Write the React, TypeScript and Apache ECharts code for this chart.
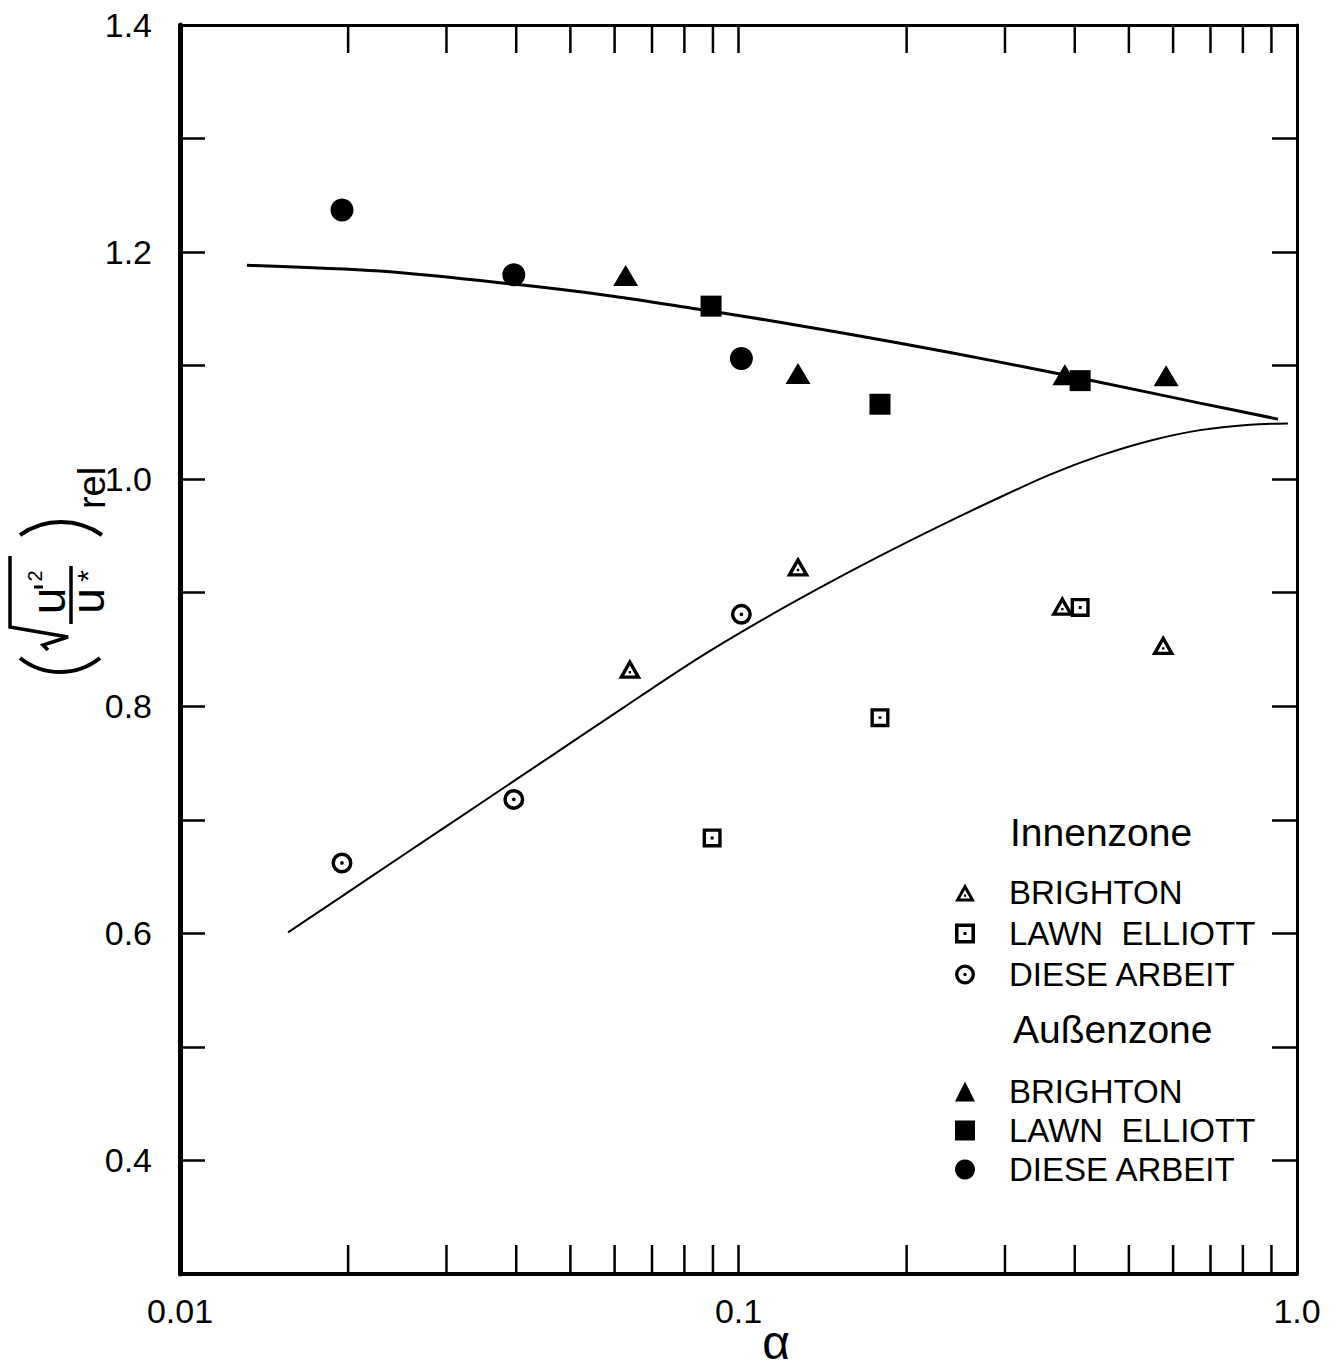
import React, { useEffect, useRef } from 'react';
import * as echarts from 'echarts';

// ---- axis ticks / labels ----
const xMinorTicks = [0.02, 0.03, 0.04, 0.05, 0.06, 0.07, 0.08, 0.09, 0.1, 0.2, 0.3, 0.4, 0.5, 0.6, 0.7, 0.8, 0.9];
const xLabelValues = [0.01, 0.1, 1];
const xLabelTexts = ['0.01', '0.1', '1.0'];
const yLabelValues = [0.4, 0.6, 0.8, 1.0, 1.2, 1.4];

// ---- curves ----
const upperCurveX = [0.01318, 0.0228, 0.0395, 0.0596, 0.0843, 0.1185, 0.1946, 0.2939, 0.4348, 0.670, 0.9247];
const upperCurveY = [1.1885, 1.1833, 1.1718, 1.1612, 1.1498, 1.1383, 1.1198, 1.1031, 1.0863, 1.0670, 1.0529];
const lowerCurveX = [0.01561, 0.01934, 0.02477, 0.03173, 0.04063, 0.05203, 0.06663, 0.0853, 0.1093, 0.1399, 0.1792, 0.2295, 0.2939, 0.3612, 0.444, 0.5455, 0.6704, 0.8237, 0.9632];
const lowerCurveY = [0.6009, 0.6315, 0.667, 0.7024, 0.7378, 0.7732, 0.8086, 0.8432, 0.8749, 0.9044, 0.9324, 0.9589, 0.9841, 1.004, 1.0207, 1.0339, 1.0432, 1.048, 1.049];

// ---- Innenzone (open markers) ----
const innenBrightonX = [0.0639, 0.1278, 0.380, 0.576];
const innenBrightonY = [0.833, 0.923, 0.8885, 0.854];
const innenLawnX = [0.0897, 0.1792, 0.409];
const innenLawnY = [0.684, 0.790, 0.887];
const innenDieseX = [0.0195, 0.0396, 0.1012];
const innenDieseY = [0.662, 0.718, 0.881];

// ---- Außenzone (filled markers) ----
const aussenBrightonX = [0.0628, 0.1278, 0.384, 0.583];
const aussenBrightonY = [1.1793, 1.093, 1.092, 1.091];
const aussenLawnX = [0.0893, 0.1792, 0.409];
const aussenLawnY = [1.1524, 1.066, 1.0868];
const aussenDieseX = [0.0195, 0.0396, 0.1012];
const aussenDieseY = [1.237, 1.180, 1.1063];

const innenNames = ['Innen:BRIGHTON', 'Innen:LAWN  ELLIOTT', 'Innen:DIESE ARBEIT'];
const aussenNames = ['Außen:BRIGHTON', 'Außen:LAWN  ELLIOTT', 'Außen:DIESE ARBEIT'];

const zip = (xs: number[], ys: number[]) => xs.map((x, i) => [x, ys[i]]);

const TICK_FONT = "'Liberation Sans Narrow', 'Liberation Sans', Arial, sans-serif";
const FONT = "'Liberation Sans', Arial, sans-serif";

const OPEN_TRIANGLE = 'path://M50,5L97,90L3,90Z M50,34L27,76L73,76Z M45,57L55,57L55,67L45,67Z';
const OPEN_SQUARE = 'path://M5,5L95,5L95,95L5,95Z M21,21L21,79L79,79L79,21Z M43,43L57,43L57,57L43,57Z';
const OPEN_CIRCLE =
  'path://M50,5A45,45 0 1 1 50,95A45,45 0 1 1 50,5Z M50,20A30,30 0 1 0 50,80A30,30 0 1 0 50,20Z M50,42A8,8 0 1 1 50,58A8,8 0 1 1 50,42Z';

export default function App() {
  const ref = useRef<HTMLDivElement>(null);

  useEffect(() => {
    const chart = echarts.init(ref.current as HTMLDivElement, null, { renderer: 'svg' });

    const rt = (text: string, x: number, y: number, fontSize: number) => ({
      type: 'text',
      x,
      y,
      rotation: Math.PI / 2,
      style: { text, fontSize, fontFamily: FONT, fill: '#000', align: 'center', verticalAlign: 'middle' },
    });

    const black = { stroke: '#000', fill: null as any };
    const mk = { color: '#000', opacity: 1 };

    const option: any = {
      animation: false,
      backgroundColor: '#fff',
      grid: { left: 180, top: 25, right: 47, bottom: 94, containLabel: false },
      xAxis: [
        {
          type: 'log',
          logBase: 10,
          min: 0.01,
          max: 1,
          position: 'bottom',
          axisLine: { lineStyle: { color: '#000', width: 4 } },
          axisTick: { show: false },
          splitLine: { show: false },
          axisLabel: {
            margin: 20,
            fontSize: 34,
            fontFamily: TICK_FONT,
            color: '#000',
            showMinLabel: true,
            showMaxLabel: true,
            formatter: (v: number) => {
              const i = xLabelValues.findIndex((l) => Math.abs(l - v) / l < 1e-6);
              return i >= 0 ? xLabelTexts[i] : '';
            },
          },
        },
        {
          type: 'log',
          logBase: 10,
          min: 0.01,
          max: 1,
          position: 'top',
          axisLine: { lineStyle: { color: '#000', width: 3 } },
          axisTick: { show: false },
          axisLabel: { show: false },
          splitLine: { show: false },
        },
      ],
      yAxis: [
        {
          type: 'value',
          min: 0.3,
          max: 1.4,
          interval: 0.1,
          position: 'left',
          axisLine: { show: true, lineStyle: { color: '#000', width: 5 } },
          axisTick: { show: true, inside: true, length: 25, lineStyle: { color: '#000', width: 2.5 } },
          splitLine: { show: false },
          axisLabel: {
            margin: 28,
            fontSize: 34,
            fontFamily: TICK_FONT,
            color: '#000',
            formatter: (v: number) => {
              const r = Math.round(v * 10) / 10;
              return yLabelValues.some((l) => Math.abs(l - r) < 1e-6) ? r.toFixed(1) : '';
            },
          },
        },
        {
          type: 'value',
          min: 0.3,
          max: 1.4,
          interval: 0.1,
          position: 'right',
          axisLine: { show: true, lineStyle: { color: '#000', width: 3 } },
          axisTick: { show: true, inside: true, length: 25, lineStyle: { color: '#000', width: 2.5 } },
          splitLine: { show: false },
          axisLabel: { show: false },
        },
      ],
      legend: [
        {
          orient: 'vertical',
          left: 955,
          top: 876,
          padding: 0,
          itemGap: 8,
          itemWidth: 20,
          itemHeight: 20,
          selectedMode: false,
          data: innenNames,
          formatter: (n: string) => n.split(':')[1],
          textStyle: { fontSize: 33, fontFamily: FONT, color: '#000', lineHeight: 33, padding: [0, 0, 0, 29] },
        },
        {
          orient: 'vertical',
          left: 955,
          top: 1075,
          padding: 0,
          itemGap: 6,
          itemWidth: 20,
          itemHeight: 20,
          selectedMode: false,
          data: aussenNames,
          formatter: (n: string) => n.split(':')[1],
          textStyle: { fontSize: 33, fontFamily: FONT, color: '#000', lineHeight: 33, padding: [0, 0, 0, 29] },
        },
      ],
      graphic: [
        { type: 'text', left: 1010, top: 835 - 22, style: { text: 'Innenzone', fontSize: 39, fontFamily: FONT, fill: '#000' } },
        { type: 'text', left: 1013, top: 1032 - 22, style: { text: 'Außenzone', fontSize: 39, fontFamily: FONT, fill: '#000' } },
        {
          type: 'text',
          x: 776,
          y: 1366,
          style: { text: 'α', fontSize: 48, fontFamily: FONT, fill: '#000', align: 'center', verticalAlign: 'bottom' },
        },
        // y-axis title (rotated expression)
        { type: 'arc', shape: { cx: 60, cy: 608, r: 64, startAngle: 0.896, endAngle: 2.246, clockwise: true }, style: { ...black, lineWidth: 4 } },
        { type: 'arc', shape: { cx: 61, cy: 593, r: 71, startAngle: -2.186, endAngle: -0.956, clockwise: true }, style: { ...black, lineWidth: 4 } },
        { type: 'polyline', shape: { points: [[10, 556], [10, 627], [68, 637], [43, 645], [48, 650]] }, style: { ...black, lineWidth: 3.5 } },
        { type: 'line', shape: { x1: 71, y1: 566, x2: 71, y2: 624 }, style: { ...black, lineWidth: 3.5 } },
        { type: 'line', shape: { x1: 34, y1: 587, x2: 43, y2: 587 }, style: { ...black, lineWidth: 3 } },
        rt('u', 48, 601, 48),
        rt('2', 35, 576, 20),
        rt('u', 88, 601, 46),
        rt('*', 87, 576, 30),
        rt('rel', 92, 488, 38),
      ],
      series: [
        {
          type: 'line',
          name: 'upper',
          data: zip(upperCurveX, upperCurveY),
          smooth: 0.3,
          symbol: 'none',
          silent: true,
          lineStyle: { color: '#000', width: 3 },
          z: 2,
        },
        {
          type: 'line',
          name: 'lower',
          data: zip(lowerCurveX, lowerCurveY),
          smooth: 0.3,
          symbol: 'none',
          silent: true,
          lineStyle: { color: '#000', width: 2 },
          z: 2,
        },
        {
          type: 'custom',
          name: 'xticks',
          silent: true,
          clip: false,
          data: xMinorTicks.map((v) => [v, 1.4]),
          encode: { x: 0, y: 1 },
          renderItem: (params: any, api: any) => {
            const x = api.value(0);
            const t = api.coord([x, 1.4]);
            const b = api.coord([x, 0.3]);
            return {
              type: 'group',
              children: [
                { type: 'line', shape: { x1: t[0], y1: t[1], x2: t[0], y2: t[1] + 28 }, style: { stroke: '#000', lineWidth: 2.5 } },
                { type: 'line', shape: { x1: b[0], y1: b[1], x2: b[0], y2: b[1] - 29 }, style: { stroke: '#000', lineWidth: 2.5 } },
              ],
            };
          },
          z: 3,
        },
        { type: 'scatter', name: innenNames[0], data: zip(innenBrightonX, innenBrightonY), symbol: OPEN_TRIANGLE, symbolSize: [23, 20], itemStyle: mk, z: 5 },
        { type: 'scatter', name: innenNames[1], data: zip(innenLawnX, innenLawnY), symbol: OPEN_SQUARE, symbolSize: 19, itemStyle: mk, z: 5 },
        { type: 'scatter', name: innenNames[2], data: zip(innenDieseX, innenDieseY), symbol: OPEN_CIRCLE, symbolSize: 21, itemStyle: mk, z: 5 },
        { type: 'scatter', name: aussenNames[0], data: zip(aussenBrightonX, aussenBrightonY), symbol: 'triangle', symbolSize: [25, 21], itemStyle: mk, z: 5 },
        { type: 'scatter', name: aussenNames[1], data: zip(aussenLawnX, aussenLawnY), symbol: 'rect', symbolSize: 21, itemStyle: mk, z: 5 },
        { type: 'scatter', name: aussenNames[2], data: zip(aussenDieseX, aussenDieseY), symbol: 'circle', symbolSize: 23, itemStyle: mk, z: 5 },
      ],
    };

    chart.setOption(option);
    return () => chart.dispose();
  }, []);

  return (
    <div
      ref={ref}
      style={{ position: 'absolute', left: 0, top: 0, width: 1344, height: 1368, background: '#fff' }}
    />
  );
}
